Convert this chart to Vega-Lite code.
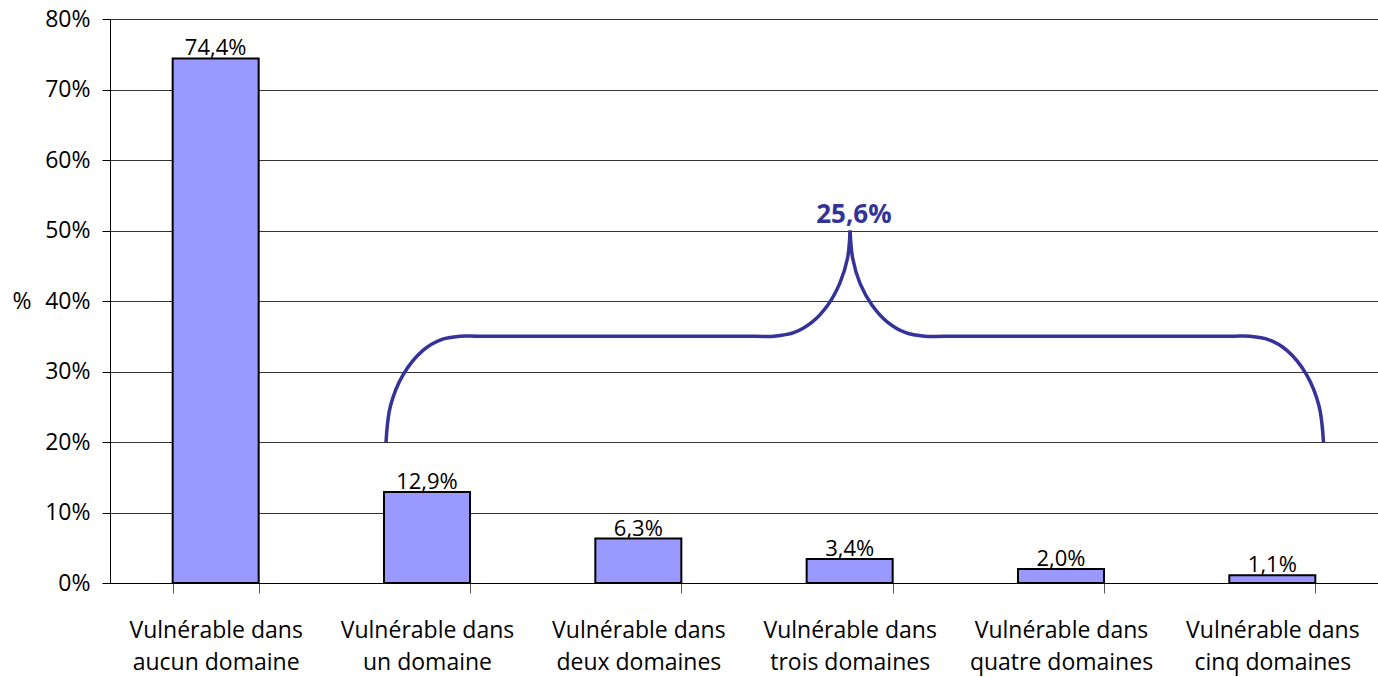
{
  "$schema": "https://vega.github.io/schema/vega-lite/v6.json",
  "width": 1268,
  "height": 564,
  "autosize": {"type": "none"},
  "padding": {"left": 110, "top": 19, "right": 0, "bottom": 94},
  "background": "#ffffff",
  "config": {
    "locale": {"number": {"decimal": ",", "thousands": " ", "grouping": [3], "currency": ["", " €"]}},
    "view": {"stroke": null},
    "font": "Open Sans"
  },
  "datasets": {
    "bars": [
      {"cat": "Vulnérable dans aucun domaine", "pct": 0.744},
      {"cat": "Vulnérable dans un domaine", "pct": 0.129},
      {"cat": "Vulnérable dans deux domaines", "pct": 0.063},
      {"cat": "Vulnérable dans trois domaines", "pct": 0.034},
      {"cat": "Vulnérable dans quatre domaines", "pct": 0.020},
      {"cat": "Vulnérable dans cinq domaines", "pct": 0.011}
    ],
    "brace": [
      {"side": "L", "i": 1, "u": 1.306, "v": 0.200},
      {"side": "L", "i": 2, "u": 1.327, "v": 0.251},
      {"side": "L", "i": 3, "u": 1.388, "v": 0.296},
      {"side": "L", "i": 4, "u": 1.481, "v": 0.330},
      {"side": "L", "i": 5, "u": 1.565, "v": 0.345},
      {"side": "L", "i": 6, "u": 1.656, "v": 0.350},
      {"side": "L", "i": 6.5, "u": 1.750, "v": 0.350},
      {"side": "L", "i": 6.7, "u": 3.050, "v": 0.350},
      {"side": "L", "i": 7, "u": 3.142, "v": 0.350},
      {"side": "L", "i": 8, "u": 3.235, "v": 0.355},
      {"side": "L", "i": 9, "u": 3.322, "v": 0.370},
      {"side": "L", "i": 10, "u": 3.396, "v": 0.394},
      {"side": "L", "i": 11, "u": 3.453, "v": 0.425},
      {"side": "L", "i": 12, "u": 3.490, "v": 0.461},
      {"side": "L", "i": 13, "u": 3.502, "v": 0.500},
      {"side": "R", "i": 13, "u": 3.502, "v": 0.500},
      {"side": "R", "i": 14, "u": 3.514, "v": 0.461},
      {"side": "R", "i": 15, "u": 3.549, "v": 0.425},
      {"side": "R", "i": 16, "u": 3.606, "v": 0.394},
      {"side": "R", "i": 17, "u": 3.679, "v": 0.370},
      {"side": "R", "i": 18, "u": 3.765, "v": 0.355},
      {"side": "R", "i": 19, "u": 3.856, "v": 0.350},
      {"side": "R", "i": 19.5, "u": 3.950, "v": 0.350},
      {"side": "R", "i": 19.7, "u": 5.300, "v": 0.350},
      {"side": "R", "i": 20, "u": 5.394, "v": 0.350},
      {"side": "R", "i": 21, "u": 5.484, "v": 0.345},
      {"side": "R", "i": 22, "u": 5.569, "v": 0.330},
      {"side": "R", "i": 23, "u": 5.661, "v": 0.296},
      {"side": "R", "i": 24, "u": 5.721, "v": 0.251},
      {"side": "R", "i": 25, "u": 5.742, "v": 0.200}
    ],
    "note": [{"u": 3.52, "v": 0.5, "label": "25,6%"}]
  },
  "layer": [
    {
      "data": {"name": "bars"},
      "layer": [
        {
          "mark": {"type": "bar", "fill": "#9999FF", "stroke": "#000000", "strokeWidth": 2},
          "encoding": {
            "x": {
              "field": "cat", "type": "nominal", "sort": null,
              "scale": {"paddingInner": 0.593, "paddingOuter": 0.2965},
              "axis": {
                "title": null, "labelAngle": 0, "tickBand": "extent",
                "labelExpr": "[slice(datum.label, 0, 15), slice(datum.label, 16)]",
                "labelFontSize": 23, "labelColor": "#000000", "labelLineHeight": 32,
                "labelPadding": 26, "labelBaseline": "top", "labelLimit": 400,
                "labelOverlap": false,
                "tickSize": 10, "tickColor": "#555555", "tickWidth": 1,
                "domainColor": "#000000", "domainWidth": 1, "grid": false
              }
            },
            "y": {
              "field": "pct", "type": "quantitative",
              "scale": {"domain": [0, 0.8], "nice": false},
              "axis": {
                "values": [0, 0.1, 0.2, 0.3, 0.4, 0.5, 0.6, 0.7, 0.8],
                "format": ".0%", "grid": true, "gridColor": "#333333", "gridWidth": 1,
                "tickSize": 8, "tickColor": "#000000", "domainColor": "#000000",
                "labelFontSize": 23, "labelColor": "#000000", "labelPadding": 12,
                "title": "%", "titleAngle": 0, "titleFontSize": 23, "titleFontWeight": "normal",
                "titleColor": "#000000", "titleX": -98, "titleY": 282,
                "titleAlign": "left", "titleBaseline": "middle"
              }
            }
          }
        },
        {
          "mark": {"type": "text", "baseline": "alphabetic", "dy": -3, "fontSize": 22, "color": "#000000"},
          "encoding": {
            "x": {"field": "cat", "type": "nominal", "sort": null},
            "y": {"field": "pct", "type": "quantitative"},
            "text": {"field": "pct", "type": "quantitative", "format": ".1%"}
          }
        }
      ]
    },
    {
      "layer": [
        {
          "data": {"name": "brace"},
          "mark": {"type": "line", "color": "#333399", "strokeWidth": 3.5, "strokeCap": "butt", "strokeJoin": "round", "interpolate": "catmull-rom"},
          "encoding": {
            "x": {"field": "u", "type": "quantitative", "scale": {"domain": [0, 6], "nice": false, "zero": false}, "axis": null},
            "y": {"field": "v", "type": "quantitative"},
            "detail": {"field": "side", "type": "nominal"},
            "order": {"field": "i", "type": "quantitative"}
          }
        },
        {
          "data": {"name": "note"},
          "mark": {"type": "text", "baseline": "alphabetic", "dy": -8, "fontSize": 26, "fontWeight": "bold", "color": "#333399"},
          "encoding": {
            "x": {"field": "u", "type": "quantitative", "scale": {"domain": [0, 6], "nice": false, "zero": false}, "axis": null},
            "y": {"field": "v", "type": "quantitative"},
            "text": {"field": "label", "type": "nominal"}
          }
        }
      ]
    }
  ],
  "resolve": {"scale": {"x": "independent"}}
}
